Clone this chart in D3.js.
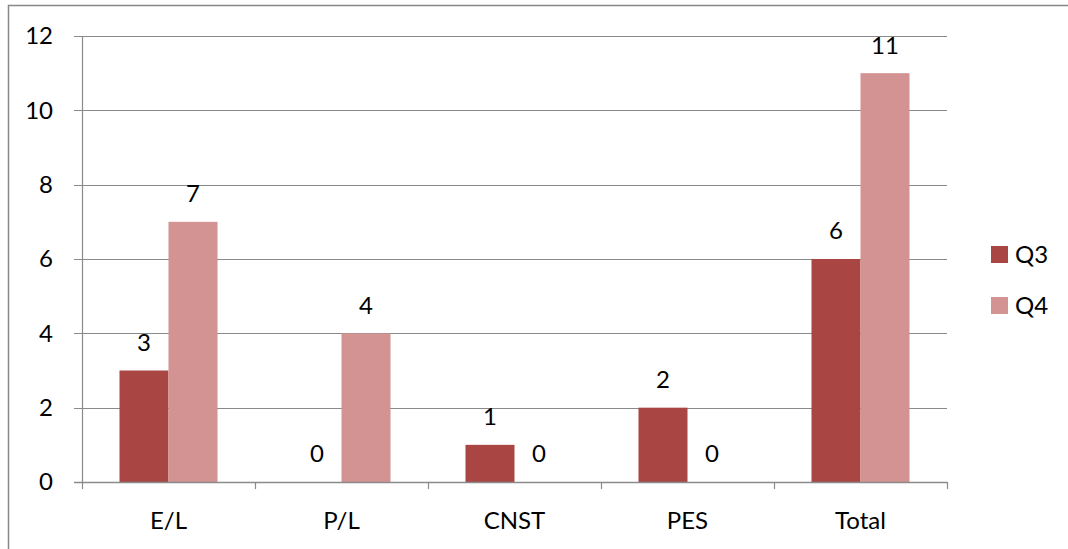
<!DOCTYPE html>
<html>
<head>
<meta charset="utf-8">
<script src="https://cdn.jsdelivr.net/npm/d3@7"></script>
<style>
	body { margin: 0; background: #fff; }
	svg text { font-family: Lato, "Open Sans", sans-serif; fill: #000; }
</style>
</head>
<body>
<div id="chart"></div>
<script>
// chart data
var categories = ["E/L", "P/L", "CNST", "PES", "Total"];
var seriesNames = ["Q3", "Q4"];
var q3Values = [3, 0, 1, 2, 6];
var q4Values = [7, 4, 0, 0, 11];
var yTicks = [0, 2, 4, 6, 8, 10, 12];
var seriesColors = ["#A94644", "#D39392"];

var width = 1068;
var height = 549;
var margin = { left: 82, right: 121, top: 36, bottom: 67 };
var fontSize = 24;

var seriesValues = [q3Values, q4Values];

var svg = d3.select("#chart").append("svg")
	.attr("width", width)
	.attr("height", height);

// outer frame (clipped at right and bottom like the source)
svg.append("path")
	.attr("d", "M8.5," + height + " V5.5 H" + width)
	.attr("fill", "none")
	.attr("stroke", "#878787")
	.attr("stroke-width", 1.5);

var x0 = d3.scaleBand()
	.domain(categories)
	.range([margin.left, width - margin.right])
	.padding(0);

var x1 = d3.scaleBand()
	.domain(seriesNames)
	.range([0, x0.bandwidth()])
	.paddingInner(0)
	.paddingOuter(0.765);

var y = d3.scaleLinear()
	.domain([0, 12])
	.range([height - margin.bottom, margin.top]);

var g = svg.append("g");

// horizontal grid lines
g.selectAll("line.grid")
	.data(yTicks)
	.enter().append("line")
	.attr("class", "grid")
	.attr("x1", margin.left - 8)
	.attr("x2", width - margin.right)
	.attr("y1", function (d) { return Math.round(y(d)) + 0.5; })
	.attr("y2", function (d) { return Math.round(y(d)) + 0.5; })
	.attr("stroke", "#8a8a8a")
	.attr("stroke-width", 1.2);

// y axis line
g.append("line")
	.attr("x1", margin.left + 0.5)
	.attr("x2", margin.left + 0.5)
	.attr("y1", y(12))
	.attr("y2", y(0))
	.attr("stroke", "#8a8a8a")
	.attr("stroke-width", 1.2);

// y tick labels
g.selectAll("text.ytick")
	.data(yTicks)
	.enter().append("text")
	.attr("class", "ytick")
	.attr("x", margin.left - 29)
	.attr("y", function (d) { return y(d); })
	.attr("dy", "0.35em")
	.attr("text-anchor", "end")
	.style("font-size", fontSize + "px")
	.text(function (d) { return d; });

// bars
seriesNames.forEach(function (name, si) {
	g.selectAll("rect.s" + si)
		.data(categories)
		.enter().append("rect")
		.attr("class", "s" + si)
		.attr("x", function (c) { return x0(c) + x1(name); })
		.attr("width", x1.bandwidth())
		.attr("y", function (c, i) { return y(seriesValues[si][i]); })
		.attr("height", function (c, i) { return y(0) - y(seriesValues[si][i]); })
		.attr("fill", seriesColors[si]);

	// value labels
	g.selectAll("text.v" + si)
		.data(categories)
		.enter().append("text")
		.attr("class", "v" + si)
		.attr("x", function (c) { return x0(c) + x1(name) + x1.bandwidth() / 2; })
		.attr("y", function (c, i) { return y(seriesValues[si][i]) - 28; })
		.attr("dy", "0.35em")
		.attr("text-anchor", "middle")
		.style("font-size", fontSize + "px")
		.text(function (c, i) { return seriesValues[si][i]; });
});

// x axis line over bars
g.append("line")
	.attr("x1", margin.left - 8)
	.attr("x2", width - margin.right)
	.attr("y1", Math.round(y(0)) + 0.5)
	.attr("y2", Math.round(y(0)) + 0.5)
	.attr("stroke", "#8a8a8a")
	.attr("stroke-width", 1.5);

// category tick marks
var tickXs = categories.map(function (c) { return x0(c); }).concat([width - margin.right]);
g.selectAll("line.xtick")
	.data(tickXs)
	.enter().append("line")
	.attr("class", "xtick")
	.attr("x1", function (d) { return Math.round(d) + 0.5; })
	.attr("x2", function (d) { return Math.round(d) + 0.5; })
	.attr("y1", y(0))
	.attr("y2", y(0) + 7)
	.attr("stroke", "#8a8a8a")
	.attr("stroke-width", 1.2);

// category labels
g.selectAll("text.xlabel")
	.data(categories)
	.enter().append("text")
	.attr("class", "xlabel")
	.attr("x", function (c) { return x0(c) + x0.bandwidth() / 2; })
	.attr("y", y(0) + 39)
	.attr("dy", "0.35em")
	.attr("text-anchor", "middle")
	.style("font-size", fontSize + "px")
	.text(function (c) { return c; });

// legend
var legend = svg.append("g")
	.attr("transform", "translate(991,246)");

legend.selectAll("rect")
	.data(seriesNames)
	.enter().append("rect")
	.attr("x", 0)
	.attr("y", function (d, i) { return i * 51; })
	.attr("width", 17)
	.attr("height", 17)
	.attr("fill", function (d, i) { return seriesColors[i]; });

legend.selectAll("text")
	.data(seriesNames)
	.enter().append("text")
	.attr("x", 24)
	.attr("y", function (d, i) { return i * 51 + 8.5; })
	.attr("dy", "0.35em")
	.style("font-size", fontSize + "px")
	.text(function (d) { return d; });
</script>
</body>
</html>
